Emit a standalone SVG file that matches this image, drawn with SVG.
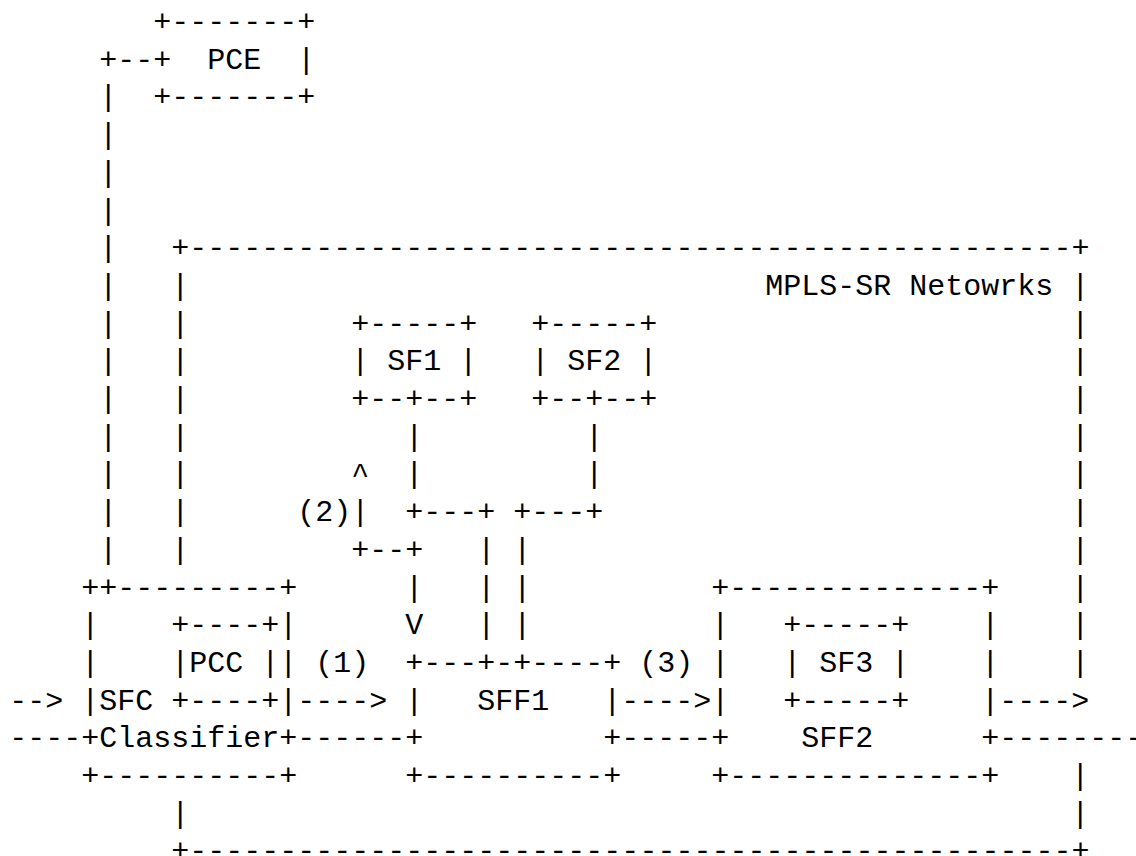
<svg xmlns="http://www.w3.org/2000/svg" width="1136" height="856" viewBox="0 0 1136 856">
<style>
text { font-family: "Liberation Mono", "DejaVu Sans Mono", monospace; font-size: 30px; fill: #000; white-space: pre; }
</style>
<rect width="1136" height="856" fill="#fff"/>
<g transform="translate(9.3 0)" xml:space="preserve">
<g id="connectors">
  <!-- PCE to SFC Classifier -->
  <text x="90" y="68.7">+--</text>
  <text x="90" y="106.4">|</text>
  <text x="90" y="144.1">|</text>
  <text x="90" y="181.8">|</text>
  <text x="90" y="219.5">|</text>
  <text x="90" y="257.2">|</text>
  <text x="90" y="294.9">|</text>
  <text x="90" y="332.6">|</text>
  <text x="90" y="370.3">|</text>
  <text x="90" y="408">|</text>
  <text x="90" y="445.7">|</text>
  <text x="90" y="483.4">|</text>
  <text x="90" y="521.1">|</text>
  <text x="90" y="558.8">|</text>
  <!-- input -->
  <text x="0" y="709.6">--&gt;</text>
  <text x="0" y="747.3">----</text>
  <!-- (1) -->
  <text x="306" y="671.9">(1)</text>
  <text x="288" y="709.6">----&gt;</text>
  <text x="288" y="747.3">------</text>
  <!-- (2) -->
  <text x="342" y="483.4">^</text>
  <text x="288" y="521.1">(2)|</text>
  <text x="342" y="558.8">+--+</text>
  <text x="396" y="596.5">|</text>
  <text x="396" y="634.2">V</text>
  <!-- SF1 to SFF1 -->
  <text x="396" y="445.7">|</text>
  <text x="396" y="483.4">|</text>
  <text x="396" y="521.1">+---+</text>
  <text x="468" y="558.8">|</text>
  <text x="468" y="596.5">|</text>
  <text x="468" y="634.2">|</text>
  <!-- SF2 to SFF1 -->
  <text x="576" y="445.7">|</text>
  <text x="576" y="483.4">|</text>
  <text x="504" y="521.1">+---+</text>
  <text x="504" y="558.8">|</text>
  <text x="504" y="596.5">|</text>
  <text x="504" y="634.2">|</text>
  <!-- (3) -->
  <text x="630" y="671.9">(3)</text>
  <text x="612" y="709.6">----&gt;</text>
  <text x="612" y="747.3">-----</text>
  <!-- output -->
  <text x="990" y="709.6">----&gt;</text>
  <text x="990" y="747.3">--------</text>
</g>
<g id="pce">
  <text x="144" y="31">+-------+</text>
  <text x="144" y="68.7">+  PCE  |</text>
  <text x="144" y="106.4">+-------+</text>
</g>
<g id="mpls-sr-network">
  <text x="162" y="257.2">+-------------------------------------------------+</text>
  <text x="162" y="294.9">|</text>
  <text x="162" y="332.6">|</text>
  <text x="162" y="370.3">|</text>
  <text x="162" y="408">|</text>
  <text x="162" y="445.7">|</text>
  <text x="162" y="483.4">|</text>
  <text x="162" y="521.1">|</text>
  <text x="162" y="558.8">|</text>
  <text x="756" y="294.9">MPLS-SR Netowrks</text>
  <text x="1062" y="294.9">|</text>
  <text x="1062" y="332.6">|</text>
  <text x="1062" y="370.3">|</text>
  <text x="1062" y="408">|</text>
  <text x="1062" y="445.7">|</text>
  <text x="1062" y="483.4">|</text>
  <text x="1062" y="521.1">|</text>
  <text x="1062" y="558.8">|</text>
  <text x="1062" y="596.5">|</text>
  <text x="1062" y="634.2">|</text>
  <text x="1062" y="671.9">|</text>
  <text x="1062" y="785">|</text>
  <text x="162" y="822.7">|</text>
  <text x="1062" y="822.7">|</text>
  <text x="162" y="860.4">+-------------------------------------------------+</text>
</g>
<g id="sfc-classifier">
  <text x="72" y="596.5">++---------+</text>
  <text x="72" y="634.2">|</text>
  <text x="270" y="634.2">|</text>
  <text x="72" y="671.9">|</text>
  <text x="270" y="671.9">|</text>
  <text x="72" y="709.6">|SFC</text>
  <text x="270" y="709.6">|</text>
  <text x="72" y="747.3">+Classifier+</text>
  <text x="72" y="785">+----------+</text>
</g>
<g id="pcc">
  <text x="162" y="634.2">+----+</text>
  <text x="162" y="671.9">|PCC |</text>
  <text x="162" y="709.6">+----+</text>
</g>
<g id="sf1">
  <text x="342" y="332.6">+-----+</text>
  <text x="342" y="370.3">| SF1 |</text>
  <text x="342" y="408">+--+--+</text>
</g>
<g id="sf2">
  <text x="522" y="332.6">+-----+</text>
  <text x="522" y="370.3">| SF2 |</text>
  <text x="522" y="408">+--+--+</text>
</g>
<g id="sff1">
  <text x="396" y="671.9">+---+-+----+</text>
  <text x="396" y="709.6">|</text>
  <text x="468" y="709.6">SFF1</text>
  <text x="594" y="709.6">|</text>
  <text x="396" y="747.3">+</text>
  <text x="594" y="747.3">+</text>
  <text x="396" y="785">+----------+</text>
</g>
<g id="sff2">
  <text x="702" y="596.5">+--------------+</text>
  <text x="702" y="634.2">|</text>
  <text x="972" y="634.2">|</text>
  <text x="702" y="671.9">|</text>
  <text x="972" y="671.9">|</text>
  <text x="702" y="709.6">|</text>
  <text x="972" y="709.6">|</text>
  <text x="702" y="747.3">+</text>
  <text x="792" y="747.3">SFF2</text>
  <text x="972" y="747.3">+</text>
  <text x="702" y="785">+--------------+</text>
</g>
<g id="sf3">
  <text x="774" y="634.2">+-----+</text>
  <text x="774" y="671.9">| SF3 |</text>
  <text x="774" y="709.6">+-----+</text>
</g>
</g>
</svg>
